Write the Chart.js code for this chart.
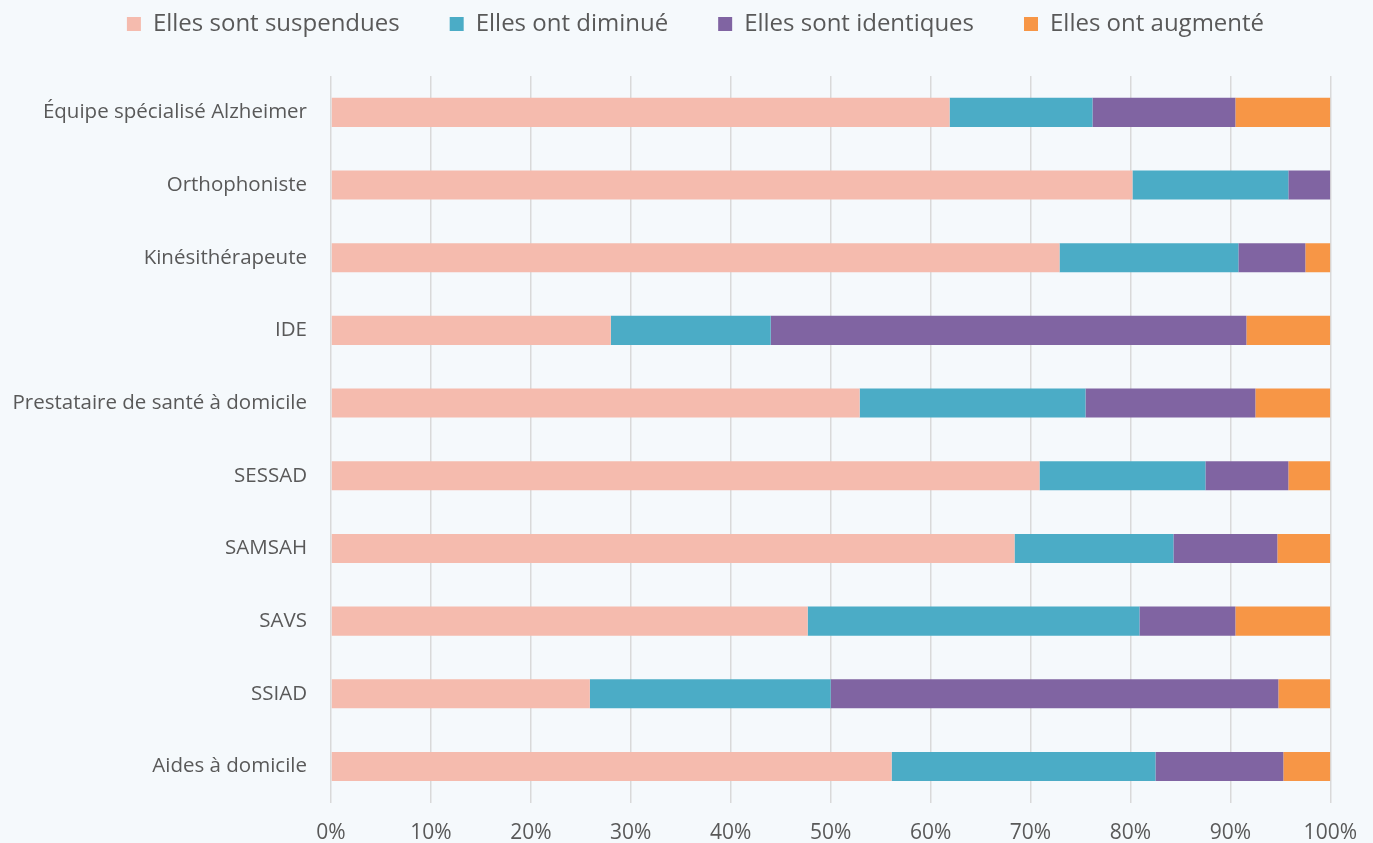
<!DOCTYPE html>
<html>
<head>
<meta charset="utf-8">
<script src="https://cdn.jsdelivr.net/npm/chart.js@4/dist/chart.umd.min.js"></script>
<style>
    html, body { margin: 0; padding: 0; background: #F5F9FC; }
    #wrap { width: 1373px; height: 843px; }
</style>
</head>
<body>
<div id="wrap"><canvas id="evolChart"></canvas></div>
<script>
// catégories (de haut en bas)
const labels = ['Équipe spécialisé Alzheimer', 'Orthophoniste', 'Kinésithérapeute', 'IDE',
    'Prestataire de santé à domicile', 'SESSAD', 'SAMSAH', 'SAVS', 'SSIAD', 'Aides à domicile'];

// pourcentages par modalité
const suspendues = [61.9, 80.2, 72.9, 28.0, 52.9, 70.9, 68.4, 47.7, 25.9, 56.1];
const diminue = [14.3, 15.6, 17.9, 16.0, 22.6, 16.6, 15.9, 33.2, 24.1, 26.4];
const identiques = [14.3, 4.2, 6.7, 47.6, 17.0, 8.3, 10.4, 9.6, 44.8, 12.8];
const augmente = [9.5, 0, 2.5, 8.4, 7.5, 4.2, 5.3, 9.5, 5.2, 4.7];

const xTicks = [0, 10, 20, 30, 40, 50, 60, 70, 80, 90, 100];

window.addEventListener('load', function () {

    const font = "'Open Sans', 'Noto Sans', sans-serif";
    Chart.defaults.font.family = font;
    Chart.defaults.color = '#595959';

    // legend: large horizontal spacing but fixed height, nudged right
    const legendTweak = {
        id: 'legendTweak',
        beforeInit: function (chart) {
            const fit = chart.legend.fit;
            chart.legend.fit = function () {
                fit.bind(chart.legend)();
                this.height = 114;
            };
        },
        afterLayout: function (chart) {
            chart.legend.left += 12;
            chart.legend.right += 12;
        }
    };

    const data = {
        labels: labels,
        datasets: [
            { label: 'Elles sont suspendues', data: suspendues, backgroundColor: '#F5BBAE' },
            { label: 'Elles ont diminué', data: diminue, backgroundColor: '#4BACC6' },
            { label: 'Elles sont identiques', data: identiques, backgroundColor: '#8064A2' },
            { label: 'Elles ont augmenté', data: augmente, backgroundColor: '#F79646' }
        ]
    };

    const padLeft = 6;

    const config = {
        type: 'bar',
        data: data,
        options: {
            indexAxis: 'y',
            responsive: true,
            maintainAspectRatio: false,
            animation: false,
            categoryPercentage: 1,
            barPercentage: 0.4,
            layout: { padding: { left: padLeft, right: 12, top: -38, bottom: -21 } },
            plugins: {
                legend: {
                    position: 'top',
                    labels: {
                        boxWidth: 14,
                        boxHeight: 14,
                        padding: 50,
                        font: { size: 24 }
                    }
                },
                tooltip: { enabled: false }
            },
            scales: {
                x: {
                    stacked: true,
                    min: 0,
                    max: 100,
                    afterBuildTicks: function (axis) {
                        axis.ticks = xTicks.map(v => ({ value: v }));
                    },
                    afterFit: function (axis) { axis.paddingRight = Math.max(0, axis.paddingRight - 2); },
                    grid: { color: '#D9D9D9', lineWidth: 1.5, drawTicks: false },
                    border: { display: false },
                    ticks: {
                        padding: 18,
                        font: { size: 21 },
                        callback: v => v + '%'
                    }
                },
                y: {
                    stacked: true,
                    grid: { display: false },
                    border: { display: false },
                    ticks: { padding: 16, font: { size: 20.5 } },
                    afterFit: function (axis) { axis.width = 331 - padLeft; }
                }
            }
        },
        plugins: [legendTweak]
    };

    const ctx = document.getElementById('evolChart').getContext('2d');
    const evolChart = new Chart(ctx, config);
});
</script>
</body>
</html>
